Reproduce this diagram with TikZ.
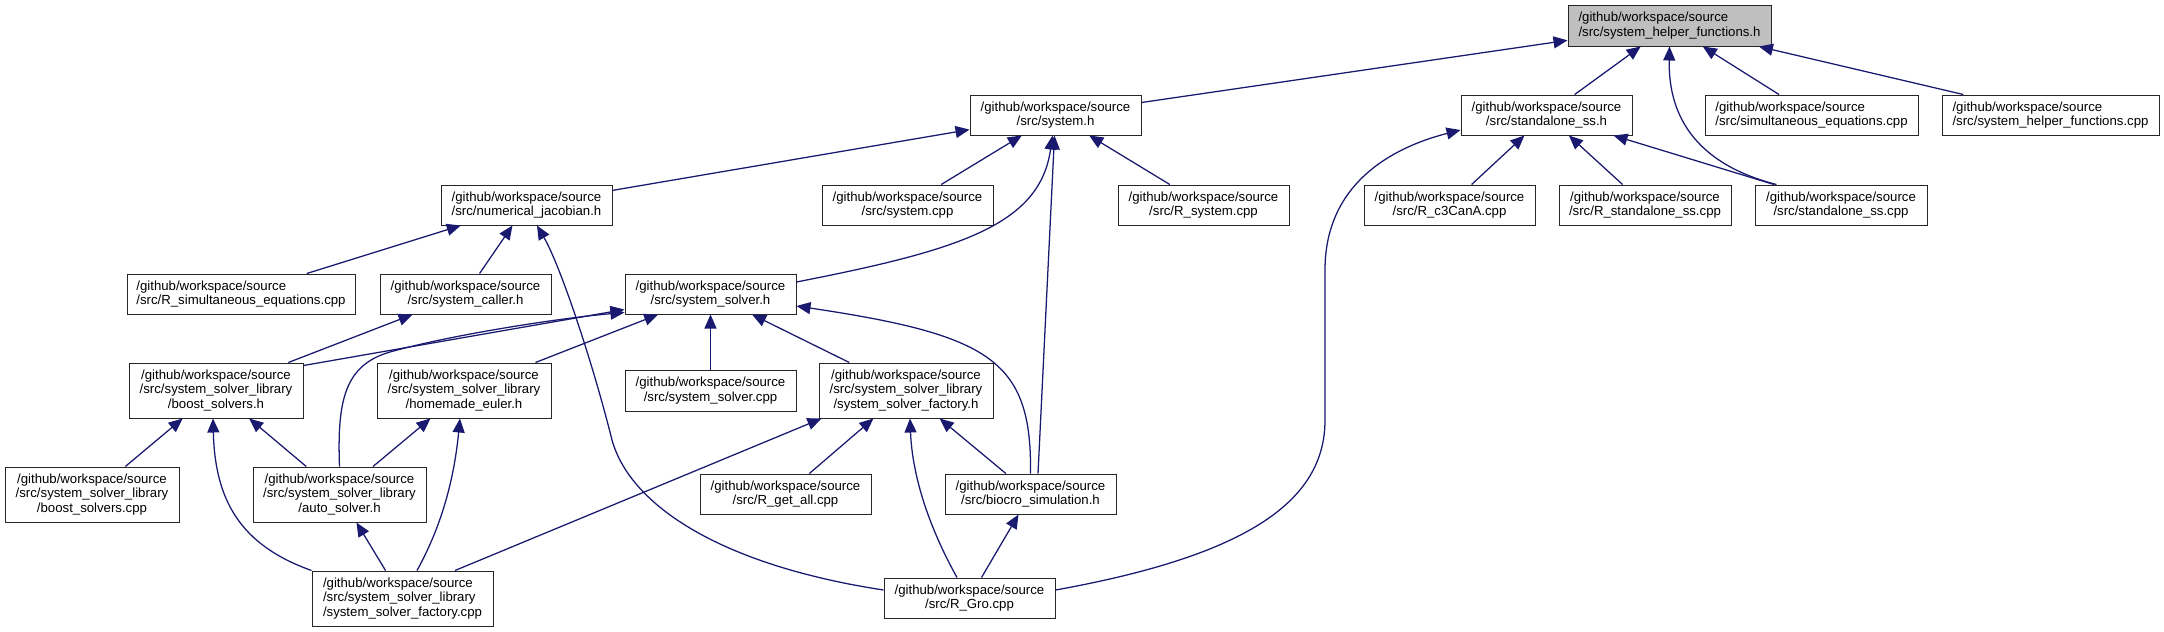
\documentclass[tikz,border=0pt]{standalone}
\usepackage{fontspec}
\setmainfont{Liberation Sans}
\usetikzlibrary{arrows.meta,calc}
\definecolor{edgecol}{HTML}{191970}
\definecolor{hlgray}{HTML}{BFBFBF}
\begin{document}
\begin{tikzpicture}[x=0.75pt,y=-0.75pt,
  box/.style={draw=black!85, line width=0.75pt, fill=white, inner sep=0pt,
    font=\fontsize{9.9}{11}\selectfont, align=center},
  lbox/.style={box, align=left},
  bw/.style={minimum width=#1*0.75pt},
  bh/.style={minimum height=#1*0.75pt},
  edge/.style={draw=edgecol, line width=0.95pt, -{Triangle[length=10.5pt,width=9pt]}, fill=none},
]
\path[fill=white] (0,0) rectangle (2164,632);
\useasboundingbox (0,0) rectangle (2164,632);

% nodes
\node[lbox, fill=hlgray, bw=203, bh=41] (shfh) at (1669.5,25.5) {/github/workspace/source\\/src/system\_helper\_functions.h};
\node[box, bw=171, bh=40] (sysh) at (1055.5,115) {/github/workspace/source\\/src/system.h};
\node[box, bw=171, bh=40] (ssh) at (1546.5,115) {/github/workspace/source\\/src/standalone\_ss.h};
\node[lbox, bw=213, bh=40] (simcpp) at (1811.5,115) {/github/workspace/source\\/src/simultaneous\_equations.cpp};
\node[lbox, bw=217, bh=40] (shfcpp) at (2050.5,115) {/github/workspace/source\\/src/system\_helper\_functions.cpp};
\node[box, bw=171, bh=40] (nj) at (526.5,205) {/github/workspace/source\\/src/numerical\_jacobian.h};
\node[box, bw=171, bh=40] (syscpp) at (907.5,205) {/github/workspace/source\\/src/system.cpp};
\node[box, bw=171, bh=40] (rsys) at (1203.5,205) {/github/workspace/source\\/src/R\_system.cpp};
\node[box, bw=171, bh=40] (rc3) at (1449.5,205) {/github/workspace/source\\/src/R\_c3CanA.cpp};
\node[box, bw=172, bh=40] (rss) at (1645,205) {/github/workspace/source\\/src/R\_standalone\_ss.cpp};
\node[box, bw=172, bh=40] (sscpp) at (1841,205) {/github/workspace/source\\/src/standalone\_ss.cpp};
\node[lbox, bw=228, bh=40] (rsim) at (241,294) {/github/workspace/source\\/src/R\_simultaneous\_equations.cpp};
\node[box, bw=171, bh=40] (scall) at (465.5,294) {/github/workspace/source\\/src/system\_caller.h};
\node[box, bw=171, bh=40] (solvh) at (710.5,294) {/github/workspace/source\\/src/system\_solver.h};
\node[box, bw=174, bh=55] (bsh) at (216,390.5) {/github/workspace/source\\/src/system\_solver\_library\\/boost\_solvers.h};
\node[box, bw=174, bh=55] (heh) at (464,390.5) {/github/workspace/source\\/src/system\_solver\_library\\/homemade\_euler.h};
\node[box, bw=171, bh=41] (solvcpp) at (710.5,390.5) {/github/workspace/source\\/src/system\_solver.cpp};
\node[box, bw=174, bh=55] (sfh) at (906,390.5) {/github/workspace/source\\/src/system\_solver\_library\\/system\_solver\_factory.h};
\node[box, bw=174, bh=55] (bscpp) at (92,494.5) {/github/workspace/source\\/src/system\_solver\_library\\/boost\_solvers.cpp};
\node[box, bw=173, bh=55] (ash) at (339.5,494.5) {/github/workspace/source\\/src/system\_solver\_library\\/auto\_solver.h};
\node[box, bw=171, bh=40] (rga) at (785.5,494) {/github/workspace/source\\/src/R\_get\_all.cpp};
\node[box, bw=171, bh=40] (bio) at (1030.5,494) {/github/workspace/source\\/src/biocro\_simulation.h};
\node[lbox, bw=181, bh=55] (sfcpp) at (402.5,598.5) {/github/workspace/source\\/src/system\_solver\_library\\/system\_solver\_factory.cpp};
\node[box, bw=171, bh=40] (rgro) at (969.5,598) {/github/workspace/source\\/src/R\_Gro.cpp};

% edges into system_helper_functions.h
\draw[edge] (sysh) -- (shfh);
\draw[edge] (ssh) -- (shfh);
\draw[edge] ($(sscpp.north west)+(22,0)$) .. controls (1700,165) and (1668,120) .. (shfh.south);
\draw[edge] (simcpp) -- (shfh);
\draw[edge] (shfcpp) -- (shfh);

% edges into system.h
\draw[edge] (nj) -- (sysh);
\draw[edge] (syscpp) -- (sysh);
\draw[edge] (rsys) -- (sysh);
\draw[edge] ($(solvh.east)+(0,-12)$) .. controls (960,250) and (1040,225) .. ($(sysh.south)+(-3,0)$);
\draw[edge] ($(bio.north)+(7.5,0)$) -- ($(sysh.south)+(-1,0)$);

% edges into standalone_ss.h
\draw[edge] ($(rgro.east)+(0,-8)$) .. controls (1250,555) and (1325,500) .. (1325,420) -- (1325,270) .. controls (1325,185) and (1390,148) .. ($(ssh.west)+(0,15)$);
\draw[edge] (rc3) -- (ssh);
\draw[edge] (rss) -- (ssh);
\draw[edge] (sscpp) -- (ssh);

% edges into numerical_jacobian.h
\draw[edge] (rsim) -- (nj);
\draw[edge] (scall) -- (nj);
\draw[edge] ($(rgro.west)+(0,-8)$) .. controls (720,565) and (630,505) .. (612,440) .. controls (592,360) and (560,265) .. ($(nj.south)+(10.5,0)$);

% edges into system_caller.h
\draw[edge] (bsh) -- (scall);

% edges into system_solver.h
\draw[edge] ($(bsh.north east)+(0,3)$) -- ($(solvh.south west)+(0,-5)$);
\draw[edge] (ash.north) .. controls (337,400) and (345,365) .. (390,352) .. controls (450,335) and (560,318) .. ($(solvh.south west)+(0,-2)$);
\draw[edge] (heh) -- (solvh);
\draw[edge] (solvcpp) -- (solvh);
\draw[edge] (sfh) -- (solvh);
\draw[edge] (bio.north) .. controls (1032,360) and (990,335) .. ($(solvh.east)+(0,12)$);

% edges into boost_solvers.h
\draw[edge] (bscpp) -- (bsh);
\draw[edge] (ash) -- (bsh);
\draw[edge] (sfcpp.north west) .. controls (240,545) and (215,500) .. ($(bsh.south)+(-3,0)$);

% edges into homemade_euler.h
\draw[edge] (ash) -- (heh);
\draw[edge] ($(sfcpp.north)+(14.5,0)$) .. controls (445,520) and (455,470) .. ($(heh.south)+(-4,0)$);

% edge into auto_solver.h
\draw[edge] (sfcpp) -- (ash);

% edges into system_solver_factory.h
\draw[edge] ($(sfcpp.north)+(52.5,0)$) -- ($(sfh.south west)+(3,0)$);
\draw[edge] (rga) -- (sfh);
\draw[edge] (bio) -- (sfh);
\draw[edge] ($(rgro.north)+(-12.5,0)$) .. controls (925,520) and (912,470) .. ($(sfh.south)+(4,0)$);

% edge into biocro_simulation.h
\draw[edge] (rgro) -- (bio);
\end{tikzpicture}
\end{document}
